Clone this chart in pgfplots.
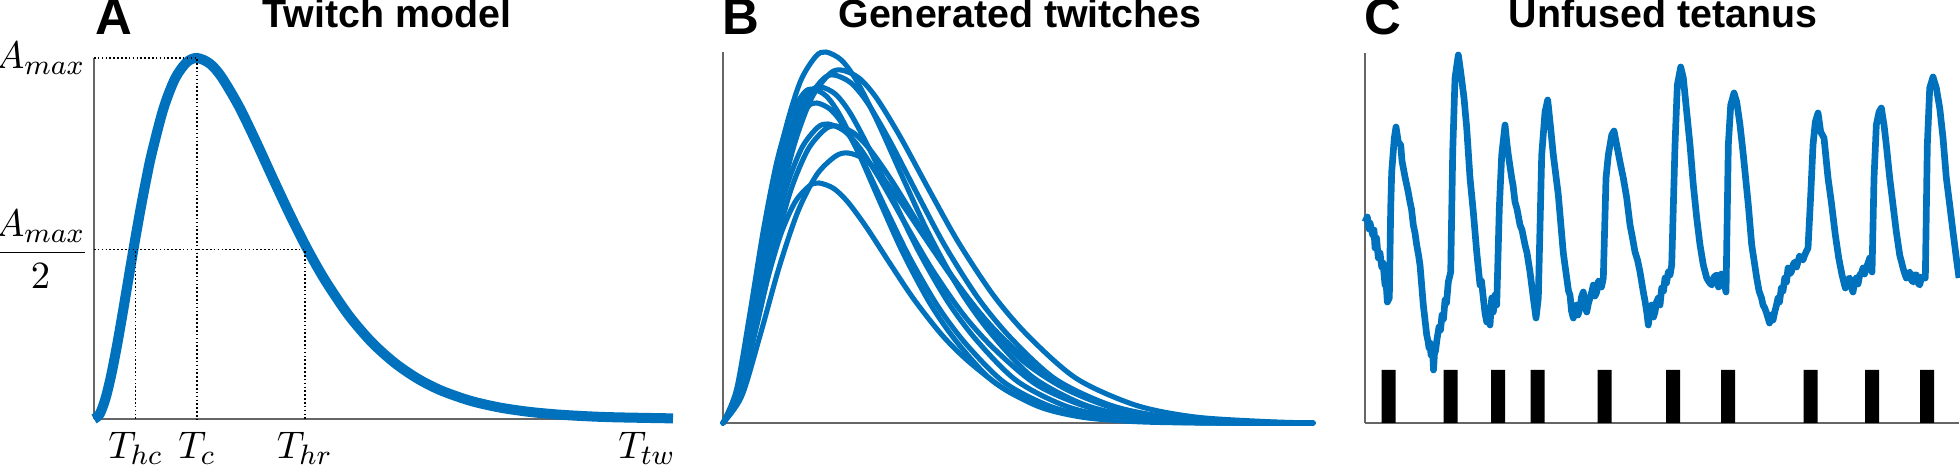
\documentclass[border=0pt]{standalone}
\usepackage{amsmath}
\usepackage{pgfplots}
\pgfplotsset{compat=1.18}
\usepackage{fontspec}
\setmainfont{Liberation Sans}
\definecolor{mblue}{RGB}{0,114,189}
\pgfplotsset{
  panel/.style={scale only axis, axis x line*=bottom, axis y line*=left,
    axis line style={black!60, line width=0.5pt}, clip=false,
    major tick length=0pt},
  twitch/.style={mblue, line width=1.45pt, smooth, line join=round, line cap=round},
}
\begin{document}
\begin{tikzpicture}
\useasboundingbox (0,0) rectangle (196mm,46.8mm);
% ---------- Panel A ----------
\begin{axis}[panel, at={(9.4mm,4.9mm)}, anchor=south west,
  width=57.9mm, height=36.1mm, xmin=0, xmax=1, ymin=0, ymax=1,
  xtick={0.072,0.178,0.364,0.955},
  xticklabels={$T_{hc}$,$T_{c}$,$T_{hr}$,$T_{tw}$},
  ytick={0.47,1},
  yticklabels={{\nulldelimiterspace=0pt$\dfrac{A_{max}}{2}$},$A_{max}$},
  tick label style={font=\fontsize{11}{13}\selectfont},
  xticklabel style={anchor=north, inner sep=0pt, yshift=-1.25mm},
  yticklabel style={anchor=east, inner sep=0pt, xshift=-0.8mm}]
\addplot[mblue, line width=2.85pt, smooth, line cap=butt] coordinates {
(0,0) (0.01,0.0142) (0.02,0.0575) (0.03,0.1238) (0.04,0.206) (0.05,0.2976)
(0.06,0.393) (0.07,0.4875) (0.08,0.578) (0.09,0.662) (0.10,0.7375) (0.12,0.860)
(0.14,0.943) (0.16,0.988) (0.178,1) (0.20,0.9845) (0.22,0.948) (0.25,0.867)
(0.28,0.768) (0.31,0.663) (0.34,0.5607) (0.37,0.466) (0.40,0.382) (0.44,0.287)
(0.48,0.212) (0.52,0.1545) (0.56,0.1108) (0.60,0.0786) (0.65,0.0505) (0.70,0.032)
(0.75,0.0201) (0.80,0.0125) (0.85,0.0077) (0.90,0.0047) (1.0,0.0017)};
\addplot[black, line width=0.45pt, dash pattern=on 0.45pt off 0.65pt] coordinates {(0,1) (0.178,1) (0.178,0)};
\addplot[black, line width=0.45pt, dash pattern=on 0.45pt off 0.65pt] coordinates {(0.072,0) (0.072,0.47)};
\addplot[black, line width=0.45pt, dash pattern=on 0.45pt off 0.65pt] coordinates {(0,0.47) (0.364,0.47) (0.364,0)};
\end{axis}
% ---------- Panel B ----------
\begin{axis}[panel, at={(72.3mm,4.5mm)}, anchor=south west,
  width=59.0mm, height=37.1mm, xmin=0, xmax=590, ymin=0, ymax=371,
  xtick=\empty, ytick=\empty]
\addplot[twitch] coordinates {(0,0) (15.5,37.1) (30.9,122.4) (46.4,214.8) (61.8,290.9) (77.3,341.3) (92.7,366.5) (103,371) (118.5,362.8) (133.9,341.7) (154.5,301.3) (180.3,244.1) (206,188.8) (236.9,132.8) (267.8,89.8) (309,46.4) (360.5,18.6) (412,6.3) (473.8,1.5) (545.9,0) (590,0)};
\addplot[twitch] coordinates {(0,0) (17.7,35.3) (35.4,116.5) (53.1,204.4) (70.8,276.8) (88.5,324.8) (106.2,348.8) (118,353) (135.7,345.2) (153.4,325.1) (177,286.6) (206.5,232.3) (236,179.7) (271.4,126.4) (306.8,85.4) (354,44.1) (413,17.7) (472,6.0) (542.8,1.4) (590,0)};
\addplot[twitch] coordinates {(0,0) (16.7,34.8) (33.3,114.8) (50,201.5) (66.6,272.8) (83.3,320.2) (99.9,343.8) (111,348) (127.7,340.3) (144.3,320.5) (166.5,282.6) (194.3,229) (222,177.1) (255.3,124.6) (288.6,84.2) (333,43.5) (388.5,17.4) (444,5.9) (510.6,1.4) (590,0)};
\addplot[twitch] coordinates {(0,0) (13.5,33.4) (27,110.2) (40.5,193.4) (54,261.9) (67.5,307.3) (81,330) (90,334) (103.5,326.7) (117,307.6) (135,271.2) (157.5,219.8) (180,170) (207,119.6) (234,80.8) (270,41.8) (315,16.7) (360,5.7) (414,1.3) (477,0) (590,0)};
\addplot[twitch] coordinates {(0,0) (14.7,33.6) (29.4,110.9) (44.1,194.5) (58.8,263.4) (73.5,309.1) (88.2,332) (98,336) (112.7,328.6) (127.4,309.5) (147,272.8) (171.5,221.1) (196,171) (225.4,120.3) (254.8,81.3) (294,42) (343,16.8) (392,5.7) (450.8,1.3) (519.4,0) (590,0)};
\addplot[twitch] coordinates {(0,0) (14.1,32) (28.2,105.6) (42.3,185.3) (56.4,250.9) (70.5,294.4) (84.6,316.2) (94,320) (108.1,313) (122.2,294.7) (141,259.8) (164.5,210.6) (188,162.9) (216.2,114.6) (244.4,77.4) (282,40) (329,16) (376,5.4) (432.4,1.3) (498.2,0) (590,0)};
\addplot[twitch] coordinates {(0,0) (15.8,29.9) (31.5,98.7) (47.3,173.1) (63,234.4) (78.8,275.1) (94.5,295.4) (105,299) (120.8,292.4) (136.5,275.4) (157.5,242.8) (183.8,196.7) (210,152.2) (241.5,107) (273,72.4) (315,37.4) (367.5,15) (420,5.1) (483,1.2) (556.5,0) (590,0)};
\addplot[twitch] coordinates {(0,0) (17,29.7) (33.9,98) (50.9,172) (67.8,232.8) (84.8,273.2) (101.7,293.4) (113,297) (130,290.5) (146.9,273.5) (169.5,241.2) (197.8,195.4) (226,151.2) (259.9,106.3) (293.8,71.9) (339,37.1) (395.5,14.9) (452,5.0) (519.8,1.2) (590,0)};
\addplot[twitch] coordinates {(0,0) (18.8,27) (37.5,89.1) (56.3,156.3) (75,211.7) (93.8,248.4) (112.5,266.8) (125,270) (141,264.1) (157,248.7) (179,219.2) (207,177.7) (235,137.4) (268,96.7) (300,62) (343,33.8) (395,13.5) (448,4.6) (510,1.1) (575,0) (590,0)};
\addplot[twitch] coordinates {(0,0) (14.4,24) (28.8,79.2) (43.2,139) (57.6,188.2) (72,220.8) (86.4,237.1) (96,240) (110.4,234.7) (124.8,221) (144,194.9) (168,157.9) (192,122.2) (220.8,85.9) (249.6,58.1) (288,30) (336,12) (384,4.1) (441.6,1) (508.8,0) (590,0)};
\end{axis}
% ---------- Panel C ----------
\begin{axis}[panel, at={(136.5mm,4.5mm)}, anchor=south west,
  width=59.4mm, height=37.0mm, xmin=0, xmax=594, ymin=0, ymax=370,
  xtick=\empty, ytick=\empty]
\addplot[ybar, fill=black, draw=none, bar width=14] coordinates {
(23.5,53) (85.7,53) (133,53) (172.7,53) (239.5,53) (308,53) (363,53) (445.5,53) (507,53) (562,53)};
\addplot[mblue, line width=1.9pt, line join=round] coordinates {
(0,201) (2.3,206) (4,194) (5,200) (7.7,188) (9,193) (10,175) (11.5,185) (13.3,165) (15,170) (16.7,156) (18,160) (20,138) (21,142) (22.3,121) (24.3,125)
(25.7,215) (26.7,251) (29.3,285) (31,296) (33.3,281) (35.7,278) (37,262) (38.3,255) (40,246) (41.7,238) (43,232) (45,221) (46.5,214) (48.3,198)
(50,190) (51.7,178) (53.5,168) (55,158) (58.3,118) (61.7,88) (63,82) (64,75) (65,80) (66,68) (67.5,74) (68.5,53) (69.5,70) (70.5,72) (72,84) (74,96) (75.5,93) (77,108) (78.5,104) (80,123)
(81.5,120) (83.3,141) (85.7,151) (87.7,271) (90,345) (93.3,368) (95.7,351) (99,325) (101.7,295) (105,245) (108.3,211)
(111.7,171) (115,138) (116.5,142) (118.3,125) (120,110) (121.7,101) (123,112) (125,98) (126.7,125) (128.3,111) (130,128) (131.7,118)
(134.3,215) (136.7,268) (140,298) (141.7,281) (143.3,268) (146.7,245) (148,238) (150,221) (152,214) (155,198) (157,193) (160,178)
(162,170) (165,151) (168.3,125) (171,105) (173.3,125) (176.7,268) (180,311) (182.7,323) (185,301) (188.3,268)
(193.3,228) (198.3,170) (201.7,145) (203.5,132) (205,128) (206.5,112) (208.3,105) (210,112) (211.7,118) (213,108) (215,115) (216.5,126) (218.3,131) (220,118) (221.7,111) (223.5,120)
(225,125) (227,132) (228.3,138) (230,127) (231.7,131) (233.5,142) (235,141) (236.5,136) (238.3,145) (241,245) (243.3,268) (246.7,288) (249,292)
(251.7,278) (255,261) (258.3,245) (261.7,225) (265,198) (267.5,185) (270,171) (272.5,163) (275,151) (278.3,131) (280,122) (281.7,111)
(283.3,98) (285,112) (286.7,118) (288.5,106) (290,111) (291.5,121) (293.3,125) (295,118) (296.7,135) (298.5,132) (300,145) (301.5,140) (303.3,151) (305,148) (306.7,158) (310,278)
(312.3,338) (315.7,356) (318.3,345) (321.7,311) (325,278) (328.3,238) (331.7,205) (335,178) (338.3,158)
(341.7,145) (344,141) (346.7,138) (349,146) (351.7,148) (353.5,136) (355,138) (356.5,149) (358.3,145) (360,136) (361,131) (363.3,278) (365.7,318) (369,330)
(371.7,321) (375,298) (378.3,268) (383.3,218) (386.7,178) (391.7,145) (394,132) (396.5,125) (398,118) (399.7,115) (401.5,110) (403,105) (404.5,100) (406.3,108) (408,103) (409.7,111)
(411.5,118) (413,125) (414.5,121) (416.3,135) (418,132) (419.7,145) (421.5,141) (423,155) (424.5,149) (426.3,151) (428,158) (429.7,161) (431.5,156) (433,161)
(434.5,167) (436.3,165) (438,163) (439.7,168) (441.5,172) (443,175) (445.7,228) (448,278) (450.3,301) (453,310) (455.7,291) (459,285)
(463,245) (466.3,221) (470.3,188) (473.7,165) (477,148) (478.5,142) (480.3,135) (482.5,143) (484.7,145) (486.5,135) (488,131) (489.5,140) (491.3,145) (493,139) (494.7,148)
(496.5,150) (498,155) (499.5,149) (501.3,155) (503,160) (504.7,165) (507,151) (509,245) (511.3,298) (514,311) (516.3,315)
(519,298) (521.3,278) (524.7,245) (528,218) (531.3,191) (534.7,168) (538,155) (539.5,150) (541.3,145) (543,149) (544.7,151) (546.5,143) (548,141) (549.5,148)
(551.3,148) (553,140) (554.7,138) (556.5,146) (558,145) (560.3,145) (562.3,278) (564.7,335) (568,346) (571.3,335)
(574.7,315) (578,285) (581.3,245) (584.7,218) (588,191) (591.3,165) (594,145)};
\end{axis}
% ---------- titles ----------
\node[anchor=base west, inner sep=0pt, font=\fontsize{14.5}{16}\selectfont\bfseries] at (9.5mm,43.3mm) {A};
\node[anchor=base west, inner sep=0pt, font=\fontsize{14.5}{16}\selectfont\bfseries] at (72.2mm,43.3mm) {B};
\node[anchor=base west, inner sep=0pt, font=\fontsize{14.5}{16}\selectfont\bfseries] at (136.4mm,43.3mm) {C};
\node[anchor=base, inner sep=0pt, font=\fontsize{11.2}{13}\selectfont\bfseries] at (38.7mm,44.0mm) {Twitch model};
\node[anchor=base, inner sep=0pt, font=\fontsize{11.2}{13}\selectfont\bfseries] at (102.0mm,44.0mm) {Generated twitches};
\node[anchor=base, inner sep=0pt, font=\fontsize{11.2}{13}\selectfont\bfseries] at (166.3mm,44.0mm) {Unfused tetanus};
\end{tikzpicture}
\end{document}
